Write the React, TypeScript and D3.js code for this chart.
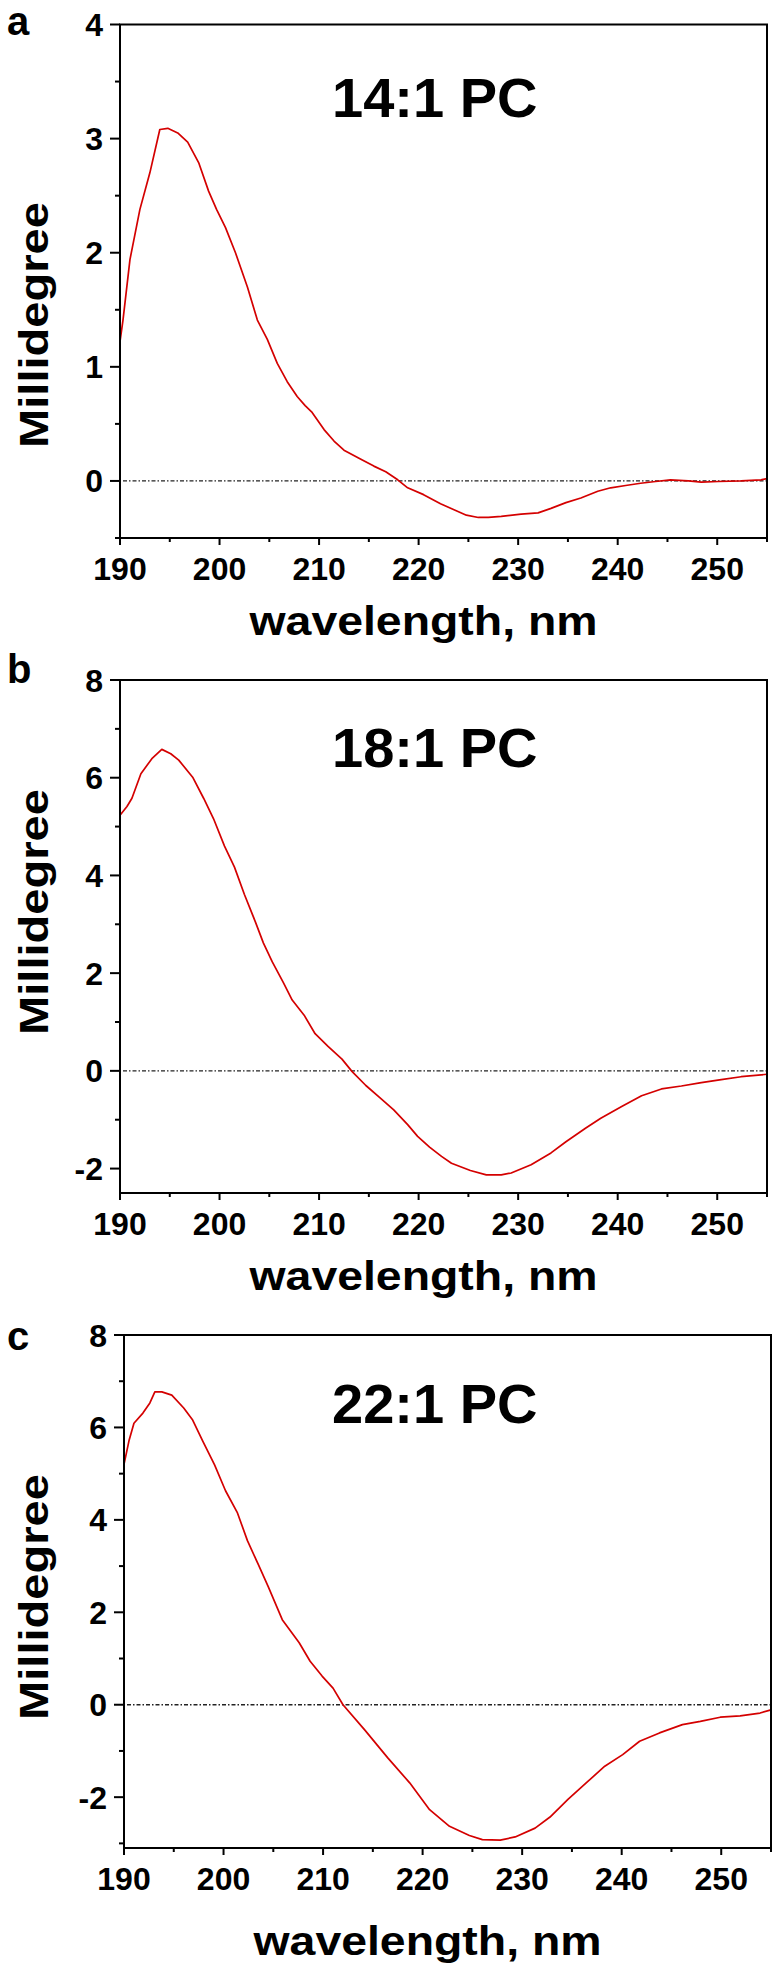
import React from "react";
import * as d3 from "d3";

// ---- Data ----
const xTicksMajor = [190, 200, 210, 220, 230, 240, 250];
const xTicksMinor = [195, 205, 215, 225, 235, 245, 255];

const titles = ["14:1 PC", "18:1 PC", "22:1 PC"];
const panelLetters = ["a", "b", "c"];

// Panel a (14:1 PC)
const wlA = [190, 190.3, 191, 192, 193, 194, 194.8, 195.8, 196.8, 197.9, 198.9, 199.7, 200.6, 201.6, 202.8, 203.8, 204.8, 205.8, 206.8, 207.8, 208.6, 209.3, 210.5, 211.5, 212.5, 214.2, 215.5, 216.7, 217.9, 218.9, 220.5, 222.2, 223.5, 224.8, 226, 227, 228.3, 230.3, 232, 233.3, 234.8, 236.3, 238, 239.3, 240.8, 242.3, 243.8, 245.3, 247.1, 248.4, 250.1, 252.4, 254.4, 255];
const mdegA = [1.22, 1.41, 1.94, 2.38, 2.7, 3.08, 3.09, 3.05, 2.97, 2.79, 2.54, 2.38, 2.22, 2.0, 1.7, 1.41, 1.24, 1.03, 0.87, 0.74, 0.66, 0.6, 0.45, 0.35, 0.27, 0.19, 0.13, 0.08, 0.01, -0.06, -0.12, -0.2, -0.25, -0.3, -0.32, -0.32, -0.31, -0.29, -0.28, -0.24, -0.19, -0.15, -0.09, -0.06, -0.04, -0.02, -0.005, 0.01, 0.0, -0.01, -0.005, 0.0, 0.01, 0.02];
const yTicksA = [0, 1, 2, 3, 4];
const yMinorA = [-0.5, 0.5, 1.5, 2.5, 3.5];

// Panel b (18:1 PC)
const wlB = [190, 190.7, 191.2, 192.1, 193.2, 194.2, 195.1, 195.9, 197.3, 198.4, 199.4, 200.5, 201.5, 202.5, 203.6, 204.4, 205.3, 206.4, 207.3, 208.5, 209.6, 210.9, 212.3, 213.3, 214.7, 216.1, 217.5, 218.9, 219.9, 221.1, 222.3, 223.3, 225.2, 226.8, 228.3, 229.3, 231.3, 233.3, 234.8, 236.8, 238.3, 240.4, 242.4, 244.4, 246.4, 248.4, 250.4, 252.4, 255];
const mdegB = [5.23, 5.41, 5.58, 6.08, 6.39, 6.58, 6.49, 6.36, 6.01, 5.58, 5.16, 4.6, 4.17, 3.61, 3.05, 2.62, 2.23, 1.81, 1.45, 1.14, 0.76, 0.5, 0.24, -0.01, -0.3, -0.55, -0.8, -1.1, -1.34, -1.56, -1.75, -1.89, -2.04, -2.13, -2.13, -2.09, -1.92, -1.68, -1.45, -1.17, -0.97, -0.73, -0.51, -0.37, -0.31, -0.24, -0.18, -0.12, -0.07];
const yTicksB = [-2, 0, 2, 4, 6, 8];
const yMinorB = [-1, 1, 3, 5, 7];

// Panel c (22:1 PC)
const wlC = [190, 190.5, 191, 191.9, 192.6, 193.1, 193.8, 194.8, 196, 196.9, 197.9, 199.1, 200.2, 201.4, 202.4, 203.5, 204.5, 205.9, 207.6, 208.7, 209.9, 211, 212, 214.2, 216.5, 218.7, 220.7, 222.7, 224.7, 226, 227.8, 229.3, 231.3, 232.8, 234.6, 236.6, 238.3, 240.1, 241.8, 243.8, 246.1, 247.9, 249.9, 251.9, 253.9, 255];
const mdegC = [5.2, 5.71, 6.09, 6.31, 6.53, 6.77, 6.77, 6.7, 6.42, 6.16, 5.71, 5.19, 4.63, 4.15, 3.55, 3.03, 2.55, 1.84, 1.34, 0.94, 0.62, 0.36, 0.0, -0.55, -1.15, -1.69, -2.27, -2.63, -2.83, -2.92, -2.93, -2.86, -2.67, -2.43, -2.05, -1.66, -1.33, -1.08, -0.79, -0.61, -0.43, -0.36, -0.27, -0.24, -0.18, -0.11];
const yTicksC = [-2, 0, 2, 4, 6, 8];
const yMinorC = [-3, -1, 1, 3, 5, 7];

type PanelProps = {
  wl: number[];
  mdeg: number[];
  yDomain: [number, number];
  yTicks: number[];
  yMinor: number[];
  left: number;
  right: number;
  top: number;
  bottom: number;
  title: string;
  titleX: number;
  titleBaseline: number;
  letter: string;
  letterBaseline: number;
  yLabelCenter: number;
  xLabelBaseline: number;
};

const FONT = "'Liberation Sans', Arial, Helvetica, sans-serif";

function Panel(p: PanelProps) {
  const x = d3.scaleLinear().domain([190, 255]).range([p.left, p.right]);
  const y = d3.scaleLinear().domain(p.yDomain).range([p.bottom, p.top]);
  const pts: [number, number][] = p.wl.map((w, i) => [w, p.mdeg[i]]);
  const line = d3
    .line<[number, number]>()
    .x((d) => x(d[0]))
    .y((d) => y(d[1]));
  return (
    <g>
      {/* zero reference line */}
      <line
        x1={p.left + 3}
        x2={p.right - 1}
        y1={y(0)}
        y2={y(0)}
        stroke="#222"
        strokeWidth={1.3}
        strokeDasharray="4 2 1.5 2"
      />
      {/* curve */}
      <path d={line(pts) || ""} fill="none" stroke="#d40000" strokeWidth={1.7} strokeLinejoin="round" />
      {/* frame */}
      <rect
        x={p.left}
        y={p.top}
        width={p.right - p.left}
        height={p.bottom - p.top}
        fill="none"
        stroke="#000"
        strokeWidth={2}
      />
      {/* y ticks */}
      {p.yTicks.map((t) => (
        <g key={"yt" + t}>
          <line x1={p.left - 10} x2={p.left} y1={y(t)} y2={y(t)} stroke="#000" strokeWidth={2} />
          <text
            x={p.left - 17}
            y={y(t)}
            dy="0.36em"
            textAnchor="end"
            fontFamily={FONT}
            fontWeight="bold"
            fontSize={32}
            fill="#000"
          >
            {t}
          </text>
        </g>
      ))}
      {p.yMinor.map((t) => (
        <line key={"ym" + t} x1={p.left - 5} x2={p.left} y1={y(t)} y2={y(t)} stroke="#000" strokeWidth={2} />
      ))}
      {/* x ticks */}
      {xTicksMajor.map((t) => (
        <g key={"xt" + t}>
          <line x1={x(t)} x2={x(t)} y1={p.bottom} y2={p.bottom + 7} stroke="#000" strokeWidth={2} />
          <text
            x={x(t)}
            y={p.bottom + 42}
            textAnchor="middle"
            fontFamily={FONT}
            fontWeight="bold"
            fontSize={32}
            fill="#000"
          >
            {t}
          </text>
        </g>
      ))}
      {xTicksMinor.map((t) => (
        <line key={"xm" + t} x1={x(t)} x2={x(t)} y1={p.bottom} y2={p.bottom + 4} stroke="#000" strokeWidth={2} />
      ))}
      {/* title */}
      <text
        x={p.titleX}
        y={p.titleBaseline}
        fontFamily={FONT}
        fontWeight="bold"
        fontSize={56}
        fill="#000"
      >
        {p.title}
      </text>
      {/* panel letter */}
      <text x={7} y={p.letterBaseline} fontFamily={FONT} fontWeight="bold" fontSize={40} fill="#000">
        {p.letter}
      </text>
      {/* y label */}
      <text
        transform={`translate(48, ${p.yLabelCenter}) rotate(-90)`}
        textAnchor="middle"
        fontFamily={FONT}
        fontWeight="bold"
        fontSize={40}
        textLength={246}
        lengthAdjust="spacingAndGlyphs"
        fill="#000"
      >
        Millidegree
      </text>
      {/* x label */}
      <text
        x={(p.left + p.right) / 2 - 20}
        y={p.xLabelBaseline}
        textAnchor="middle"
        fontFamily={FONT}
        fontWeight="bold"
        fontSize={40}
        textLength={348}
        lengthAdjust="spacingAndGlyphs"
        fill="#000"
      >
        wavelength, nm
      </text>
    </g>
  );
}

export default function App() {
  return (
    <svg
      width={774}
      height={1978}
      viewBox="0 0 774 1978"
      style={{ position: "absolute", left: 0, top: 0, background: "#fff", display: "block" }}
    >
      <rect x={0} y={0} width={774} height={1978} fill="#fff" />
      <Panel
        wl={wlA}
        mdeg={mdegA}
        yDomain={[-0.5, 4]}
        yTicks={yTicksA}
        yMinor={yMinorA}
        left={120}
        right={767}
        top={24.5}
        bottom={538}
        title={titles[0]}
        titleX={332}
        titleBaseline={117}
        letter={panelLetters[0]}
        letterBaseline={35}
        yLabelCenter={325}
        xLabelBaseline={635}
      />
      <Panel
        wl={wlB}
        mdeg={mdegB}
        yDomain={[-2.5, 8]}
        yTicks={yTicksB}
        yMinor={yMinorB}
        left={120}
        right={767}
        top={680}
        bottom={1193}
        title={titles[1]}
        titleX={332}
        titleBaseline={767}
        letter={panelLetters[1]}
        letterBaseline={683}
        yLabelCenter={912}
        xLabelBaseline={1290}
      />
      <Panel
        wl={wlC}
        mdeg={mdegC}
        yDomain={[-3.1, 8]}
        yTicks={yTicksC}
        yMinor={yMinorC}
        left={124}
        right={771}
        top={1335}
        bottom={1848}
        title={titles[2]}
        titleX={332}
        titleBaseline={1423}
        letter={panelLetters[2]}
        letterBaseline={1350}
        yLabelCenter={1597}
        xLabelBaseline={1955}
      />
    </svg>
  );
}
